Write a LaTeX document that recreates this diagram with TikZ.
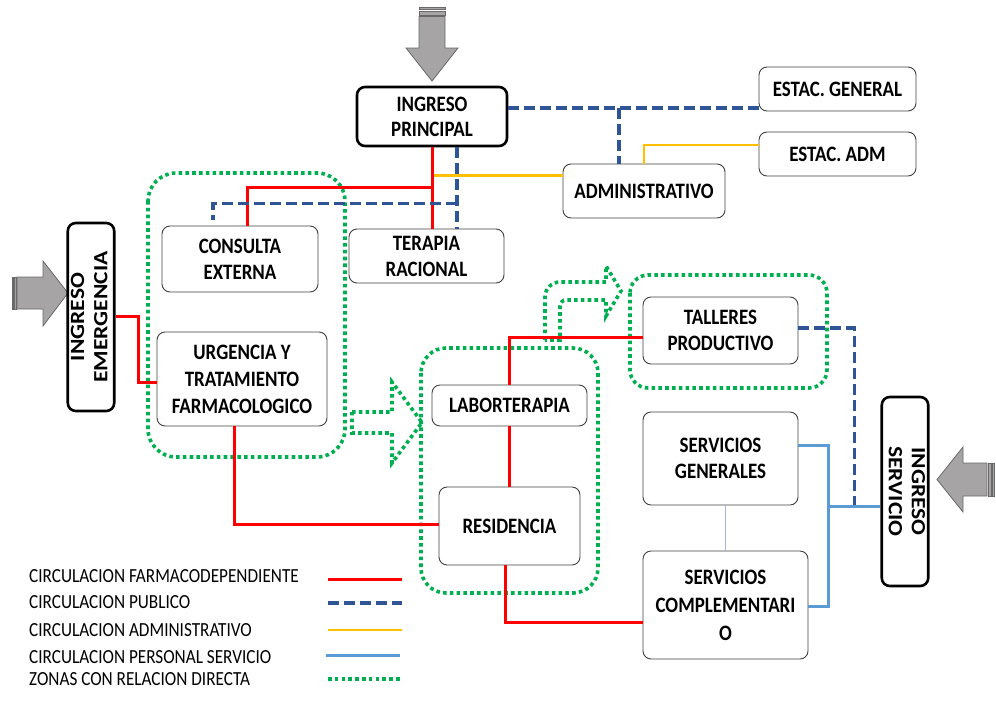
\documentclass[tikz,border=0pt]{standalone}
\usepackage{graphicx}
\usepackage{fontspec}
\setmainfont{Carlito}
\newfontfamily\narrowfont[FakeStretch=0.86]{Carlito}
\newfontfamily\rotfont{Carlito}
\usetikzlibrary{calc}

\definecolor{farma}{RGB}{255,0,0}
\definecolor{publico}{RGB}{47,85,151}
\definecolor{adminc}{RGB}{255,192,0}
\definecolor{servicio}{RGB}{91,155,213}
\definecolor{zona}{RGB}{0,176,80}
\definecolor{arrowfill}{RGB}{166,164,164}
\definecolor{arrowline}{RGB}{105,105,105}
\definecolor{thinlink}{RGB}{165,182,206}

% two-line label for the upright entrance boxes, flattened across the line direction
\newcommand{\entrylabel}[2]{\scalebox{1}[0.86]{\begin{tabular}{@{}c@{}}#1\\#2\end{tabular}}}

\tikzset{
  room/.style={draw=black!75, line width=0.9pt, rounded corners=8pt, fill=white,
    align=center, inner sep=0pt, font=\narrowfont\bfseries\fontsize{22}{26}\selectfont},
  entrybox/.style={draw=black, line width=2.6pt, rounded corners=8pt, fill=white,
    align=center, inner sep=0pt, font=\rotfont\bfseries\fontsize{23.5}{27}\selectfont},
  farmaline/.style={farma, line width=3pt},
  publine/.style={publico, line width=3.5pt, dash pattern=on 11pt off 5pt},
  admline/.style={adminc, line width=2.5pt},
  servline/.style={servicio, line width=3pt},
  zone/.style={zona, line width=3.6pt, dash pattern=on 3.6pt off 3.2pt},
  bigarrow/.style={fill=arrowfill, draw=arrowline, line width=0.8pt, line join=miter},
  legendtext/.style={anchor=base west, inner sep=0pt, font=\narrowfont\fontsize{20}{22}\selectfont}
}

\begin{document}
\begin{tikzpicture}[x=1pt,y=-1pt]
\useasboundingbox (0,0) rectangle (996,702);

% entrance arrows
\draw[bigarrow] (419,7) rectangle (445,9.5);
\draw[bigarrow] (419,11) rectangle (445,15);
\draw[bigarrow] (419,16.5) -- (445,16.5) -- (445,48) -- (458,48) -- (432,81) -- (406,48) -- (419,48) -- cycle;

\draw[bigarrow] (12,277) rectangle (13.5,309);
\draw[bigarrow] (14.5,277) rectangle (16,309);
\draw[bigarrow] (17,277) -- (17,309) -- (43,309) -- (43,326) -- (68,293) -- (43,261) -- (43,277) -- cycle;

\draw[bigarrow] (994.5,463) rectangle (992,496);
\draw[bigarrow] (991,463) rectangle (988.5,496);
\draw[bigarrow] (987,463) -- (987,496) -- (963,496) -- (963,512) -- (937,479.5) -- (963,447) -- (963,463) -- cycle;

% zones with direct relation
\draw[zone, rounded corners=28pt] (148,173) rectangle (345,457);
\draw[zone, rounded corners=25pt] (421,348) rectangle (598,593);
\draw[zone, rounded corners=18pt] (630,275) rectangle (827,388);
\draw[zone] (352,412) -- (392,412) -- (392,382) -- (422,422.5) -- (392,463) -- (392,433) -- (352,433) -- cycle;
\draw[zone] (545,340) -- (545,297) .. controls (545,288.7) and (551.7,282) .. (560,282)
  -- (606,282) -- (606,266) -- (621,291) -- (606,316) -- (606,300) -- (566,300)
  .. controls (562.7,300) and (560,302.7) .. (560,306) -- (560,340) -- cycle;

% rooms
\node[entrybox, minimum width=150, minimum height=59, font=\narrowfont\bfseries\fontsize{22}{25}\selectfont] (ingP) at (432,116.5) {INGRESO\\PRINCIPAL};
\node[room, minimum width=157, minimum height=44] (estG) at (837.5,89) {ESTAC. GENERAL};
\node[room, minimum width=157, minimum height=44] (estA) at (837.5,154) {ESTAC. ADM};
\node[room, minimum width=162, minimum height=54] (admin) at (644,191) {ADMINISTRATIVO};
\node[room, minimum width=156, minimum height=66] (consulta) at (240,259) {CONSULTA\\EXTERNA};
\node[room, minimum width=170, minimum height=94, font=\narrowfont\bfseries\fontsize{22}{27}\selectfont] (urgencia) at (242,379) {URGENCIA Y\\TRATAMIENTO\\FARMACOLOGICO};
\node[entrybox, rotate=90, minimum width=188, minimum height=46] (ingE) at (91,317) {\entrylabel{INGRESO}{EMERGENCIA}};
\node[room, minimum width=155, minimum height=54] (terapia) at (426.5,256) {TERAPIA\\RACIONAL};
\node[room, minimum width=155, minimum height=41] (labor) at (509.5,405.5) {LABORTERAPIA};
\node[room, minimum width=155, minimum height=67] (talleres) at (720.5,330.5) {TALLERES\\PRODUCTIVO};
\node[room, minimum width=155, minimum height=93] (servG) at (720.5,458.5) {SERVICIOS\\GENERALES};
\node[room, minimum width=141, minimum height=78] (resid) at (509.5,526) {RESIDENCIA};
\node[room, minimum width=165, minimum height=108, font=\narrowfont\bfseries\fontsize{22}{28}\selectfont] (servC) at (725.5,605) {SERVICIOS\\COMPLEMENTARI\\O};
\node[entrybox, rotate=-90, minimum width=189, minimum height=46] (ingS) at (905,491.5) {\entrylabel{INGRESO}{SERVICIO}};

% helper points on the circulation routes
\coordinate (pubA) at ($(ingP.east)+(0,-8.5)$);
\coordinate (pubB) at ($(admin.north)+(-25,0)$);
\coordinate (pubC) at ($(ingP.south)+(25,0)$);
\coordinate (pubD) at ($(pubC)+(0,56)$);
\coordinate (pubE) at ($(consulta.north)+(-27,-6)$);
\coordinate (servJ) at ($(ingS.south)+(0,14.5)$);
\coordinate (servK) at ($(servJ)+(-52,0)$);
\coordinate (admA) at ($(ingP.south)+(2,28)$);

% circulation: farmacodependiente
\draw[farmaline] (ingP.south) -- (ingP.south |- terapia.north);
\draw[farmaline] ($(ingP.south)+(0,40)$) -| ($(consulta.north)+(7,0)$);
\draw[farmaline] ($(ingE.south)+(0,-1)$) -- ++(23,0) |- ($(urgencia.west)+(0,3)$);
\draw[farmaline] ($(urgencia.south)+(-8,0)$) |- ($(resid.west)+(0,-2)$);
\draw[farmaline] (labor.south) -- (labor.south |- resid.north);
\draw[farmaline] (labor.north) |- ($(talleres.west)+(0,6.5)$);
\draw[farmaline] ($(resid.south)+(-4.5,0)$) |- ($(servC.west)+(0,17)$);

% circulation: publico
\draw[publine] (pubA) -- (pubA -| estG.west);
\draw[publine] (pubB |- pubA) -- (pubB);
\draw[publine] (pubC) -- (pubC |- terapia.north);
\draw[publine] (pubD) -| (pubE);
\draw[publine] ($(talleres.east)+(0,-2.5)$) -| ($(servJ)+(-26,0)$);

% circulation: administrativo
\draw[admline] (admA) -- (admA -| admin.west);
\draw[admline] (admin.north) |- ($(estA.west)+(0,-9)$);

% circulation: personal de servicio
\draw[servline] (servJ) -- (servK);
\draw[servline] ($(servG.east)+(0,-13)$) -| (servK) |- ($(servC.east)+(0,1)$);
\draw[servline] (servK |- servG.east) ++(0,-13) -- ++(2,0);
\draw[thinlink, line width=1pt] (servG.south -| servC.north) -- (servC.north);

% legend
\node[legendtext] (lg1) at (29,582) {CIRCULACION FARMACODEPENDIENTE};
\node[legendtext] (lg2) at (29,608) {CIRCULACION PUBLICO};
\node[legendtext] (lg3) at (29,636) {CIRCULACION ADMINISTRATIVO};
\node[legendtext] (lg4) at (29,663) {CIRCULACION PERSONAL SERVICIO};
\node[legendtext] (lg5) at (29,685) {ZONAS CON RELACION DIRECTA};
\draw[farmaline] (328,579) -- (402,579);
\draw[publine] (328,603) -- (402,603);
\draw[admline] (328,630) -- (402,630);
\draw[servline] (326,655) -- (400,655);
\draw[zone] (328,679) -- (402,679);
\end{tikzpicture}
\end{document}
